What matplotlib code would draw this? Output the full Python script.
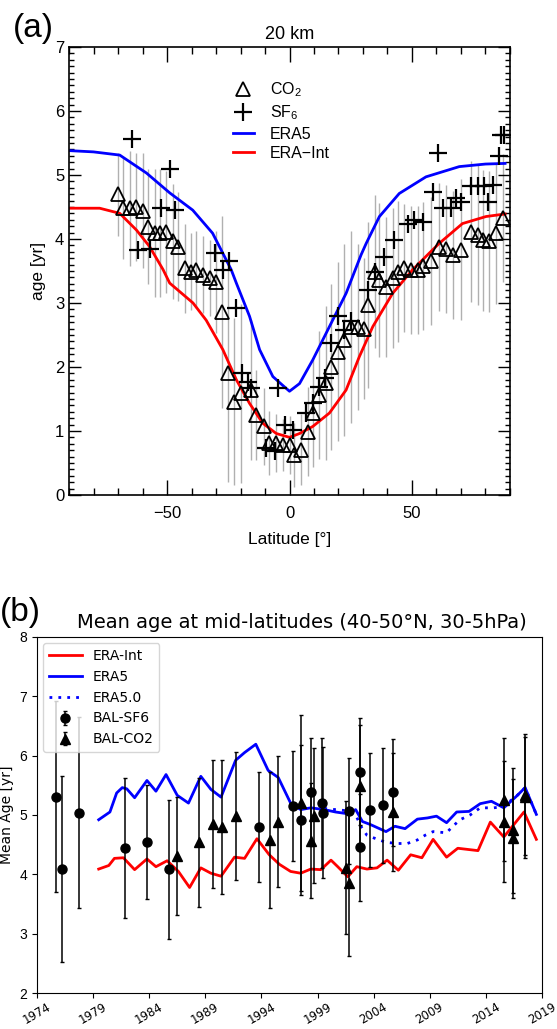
import numpy as np
import matplotlib.pyplot as plt
from matplotlib.ticker import MultipleLocator

plt.rcParams['font.family'] = ['Liberation Sans', 'DejaVu Sans']
plt.rcParams['mathtext.default'] = 'regular'

# ---------------- panel (a): mean age at 20 km vs latitude
co2_lat = [-70.2, -68.0, -65.2, -62.5, -59.8, -57.8, -55.0, -53.0, -50.3, -47.6,
           -45.5, -42.8, -40.1, -38.0, -35.3, -32.6, -29.9, -27.6, -25.1, -22.8,
           -20.0, -15.6, -13.6, -10.6, -8.2, -5.4, -2.7, 0.0, 2.0, 4.8,
           7.5, 9.5, 12.2, 15.0, 17.0, 19.7, 22.4, 25.2, 27.9, 30.6,
           31.9, 34.7, 36.7, 39.4, 42.1, 44.1, 46.9, 49.6, 52.3, 54.4,
           57.8, 61.1, 63.9, 66.6, 70.0, 74.1, 76.8, 78.8, 81.5, 84.3, 87.0]
co2_age = [4.70, 4.48, 4.48, 4.50, 4.44, 4.19, 4.09, 4.09, 4.11, 3.96,
           3.88, 3.54, 3.49, 3.52, 3.44, 3.39, 3.33, 2.86, 1.90, 1.46,
           1.59, 1.64, 1.25, 1.07, 0.81, 0.81, 0.78, 0.78, 0.62, 0.71,
           0.99, 1.28, 1.56, 1.75, 2.00, 2.24, 2.42, 2.62, 2.62, 2.60,
           2.97, 3.49, 3.36, 3.25, 3.39, 3.49, 3.54, 3.52, 3.52, 3.57,
           3.65, 3.88, 3.85, 3.75, 3.83, 4.11, 4.06, 3.98, 3.96, 4.09, 4.32]
co2_err = [0.65, 0.8, 0.9, 0.85, 0.9, 0.9, 1.0, 1.0, 0.95, 0.9,
           0.85, 0.7, 0.6, 0.6, 0.6, 0.6, 0.8, 1.5, 1.7, 1.3,
           1.4, 1.1, 0.7, 0.6, 0.5, 0.45, 0.4, 0.45, 0.5, 0.55,
           0.7, 0.85, 1.0, 1.2, 1.3, 1.4, 1.5, 1.5, 1.3, 1.1,
           1.3, 1.2, 1.2, 1.1, 1.1, 1.1, 1.0, 1.0, 1.0, 1.0,
           1.0, 1.0, 1.0, 1.0, 1.1, 1.1, 1.1, 1.1, 1.1, 1.1, 1.0]

sf6_lat = [-64.1, -61.8, -57.1, -52.3, -48.9, -46.9, -30.6, -27.2, -24.5, -21.7,
           -19.3, -17.0, -15.6, -9.5, -6.1, -4.8, -2.0, 1.4, 6.8, 9.5,
           12.2, 14.3, 17.0, 19.7, 22.4, 25.2, 31.9, 34.7, 38.7, 42.8,
           48.2, 51.0, 54.4, 58.4, 60.5, 62.5, 65.9, 68.0, 70.0, 74.1,
           76.8, 79.5, 80.9, 82.9, 85.6, 86.3, 87.7]
sf6_age = [5.56, 3.83, 3.85, 4.48, 5.10, 4.45, 3.78, 3.52, 3.65, 2.92,
           1.90, 1.77, 1.67, 0.73, 0.68, 1.67, 1.09, 1.02, 1.28, 1.43,
           1.69, 1.82, 2.37, 2.79, 2.58, 2.71, 3.20, 3.49, 3.72, 3.98,
           4.24, 4.30, 4.27, 4.74, 5.34, 4.48, 4.48, 4.64, 4.58, 4.82,
           4.82, 4.82, 4.58, 4.84, 5.29, 5.63, 5.63]

era5_lat = [-90, -80, -69.3, -58.4, -48.9, -39.5, -31.4, -23.8, -21.7, -16.3,
            -12.2, -6.8, -3.0, 0.0, 4.1, 9.5, 16.3, 23.1, 29.2, 31.3,
            36.7, 44.8, 55.7, 69.3, 80.0, 88.0]
era5_age = [5.38, 5.36, 5.31, 5.03, 4.72, 4.45, 4.09, 3.52, 3.31, 2.79,
            2.27, 1.85, 1.72, 1.62, 1.74, 2.11, 2.63, 3.15, 3.75, 3.93,
            4.35, 4.71, 4.97, 5.13, 5.17, 5.18]

erai_lat = [-90, -77.5, -69.3, -62.5, -57.1, -51.6, -48.9, -39.4, -34.0, -27.2,
            -21.7, -16.3, -10.9, -5.4, 0.0, 4.1, 9.5, 16.3, 23.1, 28.5,
            34.0, 42.1, 50.3, 57.1, 61.1, 70.6, 80.2, 88.0]
erai_age = [4.48, 4.48, 4.40, 4.14, 3.88, 3.52, 3.31, 3.00, 2.73, 2.27,
            1.80, 1.43, 1.12, 0.96, 0.90, 0.96, 1.07, 1.28, 1.64, 2.16,
            2.63, 3.15, 3.52, 3.78, 3.93, 4.24, 4.35, 4.39]

# ---------------- panel (b): mean age at mid-latitudes vs time
erai_yr = [1979.5, 1980.4, 1980.9, 1981.7, 1982.7, 1983.8, 1984.6, 1985.6, 1986.6, 1987.6,
           1988.6, 1989.5, 1990.4, 1991.6, 1992.5, 1993.6, 1994.7, 1995.6, 1996.6, 1997.5,
           1998.4, 1999.3, 2000.2, 2000.8, 2001.7, 2002.5, 2003.4, 2004.3, 2005.2, 2006.2,
           2007.3, 2008.3, 2009.3, 2010.5, 2011.5, 2012.4, 2013.3, 2014.4, 2015.6, 2017.4,
           2018.5]
erai_mean = [4.09, 4.15, 4.27, 4.28, 4.08, 4.26, 4.13, 4.23, 4.05, 3.78,
             4.11, 4.02, 3.97, 4.29, 4.27, 4.60, 4.33, 4.17, 4.05, 4.02,
             4.09, 4.08, 4.24, 4.13, 3.96, 4.13, 4.09, 4.11, 4.24, 4.07,
             4.33, 4.28, 4.59, 4.29, 4.44, 4.42, 4.40, 4.88, 4.63, 5.05,
             4.59]

era5_yr = [1979.5, 1980.5, 1981.1, 1981.6, 1982.0, 1982.7, 1983.8, 1984.6, 1985.5, 1986.5,
           1987.5, 1988.6, 1989.5, 1990.4, 1991.7, 1992.5, 1993.5, 1994.6, 1995.5, 1996.6,
           1997.5, 1998.4, 1999.6, 2000.6, 2001.7, 2002.4, 2003.0, 2003.7, 2005.1, 2005.9,
           2006.8, 2007.9, 2008.8, 2009.6, 2010.5, 2011.4, 2012.5, 2013.5, 2014.5, 2015.6,
           2016.7, 2017.5, 2018.5]
era5_mean = [4.92, 5.05, 5.37, 5.46, 5.44, 5.29, 5.58, 5.40, 5.68, 5.33,
             5.20, 5.65, 5.43, 5.30, 5.92, 6.05, 6.19, 5.75, 5.63, 5.20,
             5.09, 5.12, 5.09, 5.05, 5.02, 5.09, 4.89, 4.84, 4.72, 4.81,
             4.77, 4.93, 4.95, 4.98, 4.87, 5.05, 5.06, 5.19, 5.23, 5.12,
             5.31, 5.46, 5.01]

era50_yr = [1999.6, 2000.6, 2001.7, 2002.4, 2002.9, 2003.4, 2004.2, 2005.1, 2006.1, 2007.0,
            2007.9, 2008.6, 2009.3, 2010.5, 2011.0, 2011.7, 2012.6, 2013.5, 2014.7, 2015.5,
            2016.7, 2017.5, 2018.5]
era50_mean = [5.11, 5.09, 5.07, 5.00, 4.80, 4.66, 4.60, 4.54, 4.52, 4.52,
              4.58, 4.66, 4.72, 4.70, 4.80, 4.92, 5.00, 5.12, 5.12, 5.14,
              5.31, 5.46, 5.01]

bal_sf6_yr = [1975.7, 1976.2, 1977.7, 1981.8, 1983.8, 1985.8, 1993.8, 1996.8, 1997.5, 1998.4,
              1999.4, 1999.5, 2001.8, 2002.8, 2002.8, 2003.7, 2004.8, 2005.7]
bal_sf6 = [5.31, 4.09, 5.04, 4.44, 4.54, 4.09, 4.80, 5.15, 4.91, 5.38,
           5.20, 5.04, 5.06, 5.73, 4.46, 5.08, 5.16, 5.38]
bal_sf6_err = [1.6, 1.56, 1.6, 1.18, 0.96, 1.17, 0.92, 0.93, 1.26, 0.91,
               1.1, 1.1, 0.89, 0.9, 0.9, 0.96, 0.97, 0.9]

bal_co2_yr = [1986.5, 1988.4, 1989.7, 1990.5, 1991.7, 1994.8, 1995.5, 1997.5, 1998.4, 1998.7,
              2001.5, 2001.8, 2002.8, 2005.7, 2015.6, 2015.6, 2016.4, 2016.4, 2017.5, 2017.5]
bal_co2 = [4.31, 4.54, 4.85, 4.80, 4.98, 4.58, 4.89, 5.20, 4.57, 4.99,
           4.11, 3.85, 5.48, 5.05, 5.26, 4.89, 4.74, 4.61, 5.34, 5.30]
bal_co2_err = [1.0, 1.09, 1.08, 1.13, 1.08, 1.14, 1.1, 1.48, 0.97, 1.14,
               1.12, 1.23, 1.04, 1.0, 1.03, 1.02, 1.05, 1.0, 1.02, 1.02]

years = list(range(1974, 2020, 5))

fig = plt.figure(figsize=(5.57, 10.29), dpi=100)

# ---- (a)
ax1 = fig.add_axes([0.1239, 0.519, 0.7917, 0.4354])
ax1.errorbar(co2_lat, co2_age, yerr=co2_err, fmt='none', ecolor='#b0b0b0',
             elinewidth=1.0, zorder=1)
ax1.plot(era5_lat, era5_age, color='#0000ff', lw=2, label='ERA5', zorder=2)
ax1.plot(erai_lat, erai_age, color='#ff0000', lw=2, label='ERA\u2212Int', zorder=2)
ax1.plot(co2_lat, co2_age, '^', mfc='none', mec='k', ms=10, mew=1.3,
         label='CO$_2$', zorder=3)
ax1.plot(sf6_lat, sf6_age, '+', color='k', ms=13, mew=1.6, label='SF$_6$', zorder=3)

ax1.set_xlim(-90, 90)
ax1.set_ylim(0, 7)
ax1.xaxis.set_major_locator(MultipleLocator(50))
ax1.xaxis.set_minor_locator(MultipleLocator(10))
ax1.yaxis.set_major_locator(MultipleLocator(1))
ax1.yaxis.set_minor_locator(MultipleLocator(0.1))
ax1.tick_params(which='both', direction='in', top=True, right=True, labelsize=12, width=1)
ax1.tick_params(axis='x', which='major', length=11)
ax1.tick_params(axis='x', which='minor', length=5)
ax1.tick_params(axis='y', which='major', length=8.5)
ax1.tick_params(axis='y', which='minor', length=3.5)
ax1.tick_params(axis='x', pad=8)
for s in ax1.spines.values():
    s.set_linewidth(1.2)
ax1.set_xlabel('Latitude [\u00b0]', fontsize=12.5, labelpad=8)
ax1.set_ylabel('age [yr]', fontsize=12.5, labelpad=6)
ax1.set_title('20 km', fontsize=13, pad=6)

h, l = ax1.get_legend_handles_labels()
order = [2, 3, 0, 1]
ax1.legend([h[i] for i in order], [l[i] for i in order], frameon=False,
           loc='upper left', bbox_to_anchor=(0.357, 0.94), borderaxespad=0,
           fontsize=11.5, handlelength=1.3, handletextpad=1.0, labelspacing=0.28)

fig.text(0.023, 0.972, '(a)', fontsize=24, va='center', ha='left')

# ---- (b)
ax2 = fig.add_axes([0.0664, 0.0347, 0.9066, 0.3466])
ax2.plot(erai_yr, erai_mean, color='#ff0000', lw=2, label='ERA-Int', zorder=3)
ax2.plot(era5_yr, era5_mean, color='#0000ff', lw=2, label='ERA5', zorder=3)
ax2.plot(era50_yr, era50_mean, color='#0000ff', lw=2, ls=(0, (1, 2.2)),
         label='ERA5.0', zorder=2)
ax2.errorbar(bal_sf6_yr, bal_sf6, yerr=bal_sf6_err, fmt='o', color='k', ms=6.5,
             elinewidth=1.1, capsize=1.5, capthick=1, label='BAL-SF6', zorder=4)
ax2.errorbar(bal_co2_yr, bal_co2, yerr=bal_co2_err, fmt='^', color='k', ms=7,
             elinewidth=1.1, capsize=1.5, capthick=1, label='BAL-CO2', zorder=4)

ax2.set_xlim(1974, 2019)
ax2.set_ylim(2, 8)
ax2.set_xticks(years)
ax2.set_xticklabels([str(y) for y in years], rotation=30, fontsize=8.5,
                    family='DejaVu Sans')
ax2.tick_params(axis='x', pad=1.5)
ax2.tick_params(axis='y', labelsize=10)
ax2.set_ylabel('Mean Age [yr]', fontsize=10, family='DejaVu Sans')
ax2.yaxis.set_label_coords(-0.046, 0.5)
ax2.set_title('Mean age at mid-latitudes (40-50\u00b0N, 30-5hPa)', fontsize=14,
              family='DejaVu Sans', pad=6, x=0.525)
ax2.legend(loc='upper left', bbox_to_anchor=(0.012, 0.982), borderaxespad=0,
           prop={'family': 'DejaVu Sans', 'size': 10}, handlelength=2.4)

fig.text(0.0, 0.405, '(b)', fontsize=24, va='center', ha='left')

fig.savefig('out.png', dpi=100)
